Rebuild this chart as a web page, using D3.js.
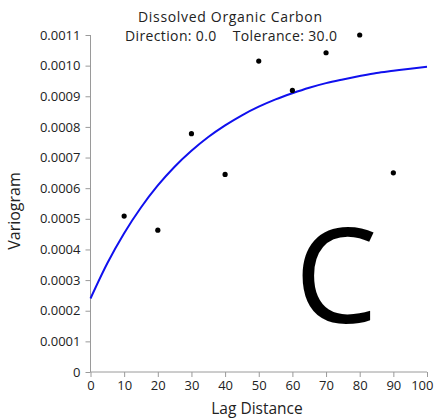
<!DOCTYPE html>
<html><head><meta charset="utf-8">
<script src="https://cdn.jsdelivr.net/npm/d3@7"></script>
<style>body{margin:0;background:#fff}svg{display:block}text{font-family:"Open Sans","Noto Sans",sans-serif;fill:#222}</style>
</head><body>
<script>
const lagDistances = [10, 20, 30, 40, 50, 60, 70, 80, 90];
const variogramValues = [0.000509, 0.000463, 0.000778, 0.000645, 0.001015, 0.000919, 0.001042, 0.0011, 0.00065];
const modelLags = [0,5,10,15,20,25,30,35,40,45,50,55,60,65,70,75,80,85,90,95,100];
const modelValues = [0.00024,0.000355,0.000453,0.000537,0.000609,0.00067,0.000722,0.000767,0.000805,0.000838,0.000866,0.00089,0.00091,0.000928,0.000943,0.000955,0.000966,0.000976,0.000983,0.00099,0.000996];
const xTicks = [0,10,20,30,40,50,60,70,80,90,100];
const yTicks = [0,0.0001,0.0002,0.0003,0.0004,0.0005,0.0006,0.0007,0.0008,0.0009,0.0010,0.0011];
const titleLines = ["Dissolved Organic Carbon", "Direction: 0.0    Tolerance: 30.0"];

const W = 434, H = 420;
const svg = d3.select("body").append("svg").attr("width", W).attr("height", H);
const x = d3.scaleLinear().domain([0, 100]).range([90.5, 427]);
const y = d3.scaleLinear().domain([0, 0.0011]).range([372, 35]);
const axisColor = "#9a9a9a";

const gx = svg.append("g").attr("transform", `translate(0,${y(0)})`)
  .call(d3.axisBottom(x).tickValues(xTicks).tickSize(5).tickPadding(4).tickFormat(d3.format("d")));
const gy = svg.append("g").attr("transform", `translate(${x(0)},0)`)
  .call(d3.axisLeft(y).tickValues(yTicks).tickSize(5).tickPadding(5).tickFormat(d => d === 0 ? "0" : d3.format(".4f")(d)));
[gx, gy].forEach(g => {
  g.selectAll("path,line").attr("stroke", axisColor);
  g.select(".domain").attr("d", g === gx ? `M${x(0)},0H${x(100)}` : `M0,${y(0)}V${y(0.0011)}`);
  g.selectAll("text").style("font-size", "13px").attr("fill", "#222");
});
gx.selectAll(".tick text").filter(d => d === 100).attr("text-anchor", "end").attr("dx", "6px");

const line = d3.line().x((d, i) => x(modelLags[i])).y(d => y(d)).curve(d3.curveMonotoneX);
svg.append("path").datum(modelValues).attr("d", line)
  .attr("fill", "none").attr("stroke", "#1010ee").attr("stroke-width", 2);

svg.selectAll("circle.pt").data(variogramValues).enter().append("circle")
  .attr("class", "pt").attr("cx", (d, i) => x(lagDistances[i])).attr("cy", d => y(d))
  .attr("r", 2.6).attr("fill", "#000");

svg.append("text").attr("x", 230).attr("y", 22).attr("text-anchor", "middle")
  .style("font-size", "14px").attr("textLength", 184).text(titleLines[0]);
svg.append("text").attr("x", 231).attr("y", 41).attr("text-anchor", "middle")
  .style("font-size", "14px").attr("xml:space", "preserve").style("white-space", "pre").attr("textLength", 212).text(titleLines[1]);

svg.append("text").attr("x", 257).attr("y", 414).attr("text-anchor", "middle")
  .style("font-size", "15.5px").text("Lag Distance");
svg.append("text").attr("transform", "translate(20,211) rotate(-90)").attr("text-anchor", "middle")
  .style("font-size", "16px").text("Variogram");

svg.append("text").attr("x", 336).attr("y", 323).attr("text-anchor", "middle")
  .style("font-size", "132px").style("fill", "#000").text("C");
</script>
</body></html>
